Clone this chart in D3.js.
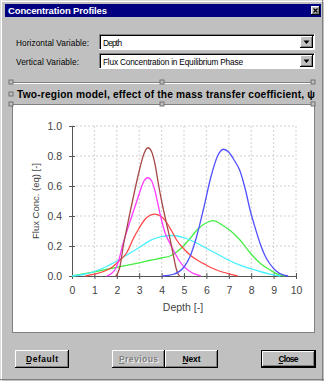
<!DOCTYPE html>
<html>
<head>
<meta charset="utf-8">
<script src="https://cdn.jsdelivr.net/npm/d3@7"></script>
<style>
  body { margin: 0; background: #c0c0c0; overflow: hidden; }
  text { font-family: Arial, "Liberation Sans", sans-serif; }
</style>
</head>
<body>
<script>
// tick values
const xTicks = [0, 1, 2, 3, 4, 5, 6, 7, 8, 9, 10];
const yTicks = [0, 0.2, 0.4, 0.6, 0.8, 1.0];

// concentration profiles, [depth, flux conc]
const brown = [[1.95,0],[2.05,0.02],[2.15,0.07],[2.3,0.21],[2.45,0.32],[2.6,0.43],[2.8,0.57],[3.0,0.7],[3.2,0.81],[3.39,0.855],[3.55,0.83],[3.7,0.75],[3.85,0.62],[4.0,0.5],[4.1,0.43],[4.25,0.33],[4.4,0.23],[4.55,0.12],[4.65,0.05],[4.75,0.01],[4.82,0]];
const magenta = [[1.55,0],[1.75,0.015],[1.95,0.05],[2.1,0.11],[2.25,0.2],[2.45,0.3],[2.65,0.39],[2.85,0.48],[3.05,0.57],[3.2,0.63],[3.39,0.655],[3.55,0.635],[3.7,0.57],[3.85,0.47],[4.0,0.37],[4.15,0.29],[4.38,0.215],[4.6,0.15],[4.82,0.095],[5.05,0.055],[5.27,0.03],[5.5,0.012],[5.75,0]];
const red = [[0.6,0],[1.0,0.012],[1.5,0.035],[1.8,0.06],[2.1,0.1],[2.44,0.155],[2.74,0.25],[3.0,0.32],[3.3,0.385],[3.7,0.413],[4.0,0.395],[4.23,0.355],[4.45,0.3],[4.67,0.24],[5.0,0.18],[5.27,0.14],[5.55,0.11],[5.86,0.084],[6.15,0.06],[6.46,0.04],[6.75,0.025],[7.05,0.013],[7.4,0]];
const cyan = [[0,0],[0.5,0.01],[1.0,0.03],[1.5,0.06],[2.0,0.1],[2.5,0.145],[3.0,0.19],[3.5,0.238],[4.0,0.262],[4.5,0.27],[5.0,0.255],[5.5,0.225],[6.0,0.185],[6.5,0.145],[7.0,0.105],[7.5,0.072],[8.0,0.048],[8.5,0.025],[8.84,0.012],[9.1,0.004],[9.3,0]];
const green = [[0,0],[1,0.028],[2,0.058],[3,0.088],[3.5,0.105],[4.0,0.12],[4.4,0.135],[4.8,0.175],[5.27,0.25],[5.6,0.31],[6.0,0.355],[6.31,0.369],[6.7,0.34],[7.05,0.305],[7.5,0.24],[7.95,0.155],[8.4,0.085],[8.84,0.04],[9.1,0.018],[9.35,0.004],[9.5,0]];
const blue = [[4.05,0],[4.5,0.01],[5.0,0.06],[5.27,0.13],[5.5,0.23],[5.86,0.44],[6.2,0.66],[6.5,0.8],[6.76,0.845],[7.0,0.825],[7.25,0.77],[7.5,0.7],[7.75,0.57],[7.95,0.44],[8.2,0.31],[8.39,0.22],[8.6,0.14],[8.84,0.08],[9.1,0.035],[9.43,0.007],[9.65,0]];

const series = [green, cyan, red, magenta, brown, blue];
const colors = ["#45ee45", "#45f0ff", "#ff4848", "#ff3cff", "#a84848", "#5050ff"];

const W = 324, H = 381;
const svg = d3.select("body").append("svg")
  .attr("width", W).attr("height", H);

// ---- dialog chrome ----
function hline(x1, x2, y, c) {
  svg.append("line").attr("x1", x1).attr("x2", x2).attr("y1", y).attr("y2", y).attr("stroke", c);
}
function vline(x, y1, y2, c) {
  svg.append("line").attr("x1", x).attr("x2", x).attr("y1", y1).attr("y2", y2).attr("stroke", c);
}
// raised 3d box
function raised(x, y, w, h) {
  svg.append("rect").attr("x", x).attr("y", y).attr("width", w).attr("height", h).attr("fill", "#c0c0c0");
  hline(x, x + w - 1, y + 0.5, "#fff");
  vline(x + 0.5, y, y + h - 1, "#fff");
  hline(x, x + w, y + h - 0.5, "#000");
  vline(x + w - 0.5, y, y + h, "#000");
  hline(x + 1, x + w - 1, y + h - 1.5, "#808080");
  vline(x + w - 1.5, y + 1, y + h - 1, "#808080");
}
// sunken white field
function sunken(x, y, w, h) {
  svg.append("rect").attr("x", x).attr("y", y).attr("width", w).attr("height", h).attr("fill", "#fff");
  hline(x, x + w, y + 0.5, "#808080");
  vline(x + 0.5, y, y + h, "#808080");
  hline(x + 1, x + w - 1, y + 1.5, "#000");
  vline(x + 1.5, y + 1, y + h - 1, "#000");
  hline(x, x + w, y + h - 0.5, "#fff");
  vline(x + w - 0.5, y, y + h, "#fff");
}

// window frame
hline(0, W, 0.5, "#dcdcdc");
hline(0, W, 1.5, "#fff");
vline(0.5, 0, H, "#dcdcdc");
vline(1.5, 0, H, "#fff");
vline(W - 1.5, 0, H, "#808080");
hline(0, W, H - 1.5, "#808080");

// title bar
svg.append("rect").attr("x", 5).attr("y", 4).attr("width", 316).attr("height", 13).attr("fill", "#000080");
svg.append("text").attr("x", 8).attr("y", 14).attr("fill", "#fff")
  .attr("font-size", 9.5).attr("font-weight", "bold").attr("textLength", 99)
  .text("Concentration Profiles");
raised(311, 6, 9, 9);
svg.append("path").attr("d", "M313.5,8.5 L317.5,12.5 M317.5,8.5 L313.5,12.5")
  .attr("stroke", "#000").attr("stroke-width", 1.3);

// combo boxes
function combo(y, label, labelW, value, valueW) {
  svg.append("text").attr("x", 16).attr("y", y + 12).attr("font-size", 8.3)
    .attr("textLength", labelW).attr("fill", "#000").text(label);
  sunken(99, y, 216, 16);
  svg.append("text").attr("x", 103).attr("y", y + 12).attr("font-size", 8.3)
    .attr("textLength", valueW).attr("fill", "#000").text(value);
  raised(300, y + 2, 13, 12);
  svg.append("path").attr("d", `M303.5,${y + 6.5} L309.5,${y + 6.5} L306.5,${y + 10} Z`).attr("fill", "#000");
}
combo(34, "Horizontal Variable:", 73, "Depth", 19);
combo(53, "Vertical Variable:", 63, "Flux Concentration in Equilibrium Phase", 140);

// title band with selection handles
hline(11, 314, 82.5, "#808080");
hline(11, 314, 83.5, "#fff");
svg.append("clipPath").attr("id", "bandclip").append("rect")
  .attr("x", 14).attr("y", 84).attr("width", 302).attr("height", 19);
svg.append("text").attr("x", 17).attr("y", 98).attr("font-size", 10.2)
  .attr("font-weight", "bold").attr("fill", "#000").attr("textLength", 298)
  .attr("clip-path", "url(#bandclip)")
  .text("Two-region model, effect of the mass transfer coefficient, \u03c8");
[[11, 82], [162, 82], [313, 82], [11, 94]].forEach(([hx, hy]) => {
  svg.append("rect").attr("x", hx - 2).attr("y", hy - 2).attr("width", 4).attr("height", 4)
    .attr("fill", "#c0c0c0").attr("stroke", "#606060").attr("stroke-width", 0.8);
});

// plot panel
svg.append("rect").attr("x", 12.5).attr("y", 104.5).attr("width", 302).attr("height", 228)
  .attr("fill", "#fff").attr("stroke", "#808080");
[[11, 104], [162, 104], [313, 104]].forEach(([hx, hy]) => {
  svg.append("rect").attr("x", hx - 2).attr("y", hy - 2).attr("width", 4).attr("height", 4)
    .attr("fill", "#c0c0c0").attr("stroke", "#606060").attr("stroke-width", 0.8);
});

// ---- chart ----
const x = d3.scaleLinear().domain([0, 10]).range([72, 296]);
const y = d3.scaleLinear().domain([0, 1]).range([276, 126]);

const plot = svg.append("g");

// dotted grid
plot.selectAll(".vgrid").data(xTicks.slice(1)).enter().append("line")
  .attr("x1", d => x(d)).attr("x2", d => x(d))
  .attr("y1", y(0)).attr("y2", y(1))
  .attr("stroke", "#d0d0d0").attr("stroke-dasharray", "2,2");
plot.selectAll(".hgrid").data(yTicks.slice(1)).enter().append("line")
  .attr("x1", x(0)).attr("x2", x(10))
  .attr("y1", d => y(d)).attr("y2", d => y(d))
  .attr("stroke", "#d0d0d0").attr("stroke-dasharray", "2,2");

// axes, ticks crossing the line
const axisColor = "#555";
const xAxis = plot.append("g")
  .attr("transform", `translate(0,${y(0)})`)
  .call(d3.axisBottom(x).tickValues(xTicks).tickSizeInner(3).tickSizeOuter(0).tickPadding(8).tickFormat(d3.format("d")));
xAxis.selectAll(".tick line").attr("y1", -3);

const yAxis = plot.append("g")
  .attr("transform", `translate(${x(0)},0)`)
  .call(d3.axisLeft(y).tickValues(yTicks).tickSizeInner(3).tickSizeOuter(0).tickPadding(7).tickFormat(d3.format(".1f")));
yAxis.selectAll(".tick line").attr("x1", 3);

[xAxis, yAxis].forEach(g => {
  g.select(".domain").attr("stroke", axisColor);
  g.selectAll(".tick line").attr("stroke", axisColor);
  g.selectAll(".tick text").attr("fill", "#444").attr("font-size", 10.5)
    .attr("font-family", "Arial, 'Liberation Sans', sans-serif");
});

// axis titles
plot.append("text").attr("x", 183).attr("y", 311).attr("text-anchor", "middle")
  .attr("font-size", 10.5).attr("fill", "#444").text("Depth [-]");
plot.append("text").attr("transform", "translate(39,201) rotate(-90)")
  .attr("text-anchor", "middle").attr("font-size", 9.5).attr("fill", "#444")
  .text("Flux Conc. (eq) [-]");

// profile lines
const line = d3.line().x(d => x(d[0])).y(d => y(d[1])).curve(d3.curveMonotoneX);
plot.selectAll(".profile").data(series).enter().append("path")
  .attr("d", line)
  .attr("fill", "none")
  .attr("stroke", (d, i) => colors[i])
  .attr("stroke-width", 1.3);

// ---- buttons ----
function button(bx, w, label, tw, opts = {}) {
  const by = 350, bh = 18;
  if (opts.isDefault) {
    svg.append("rect").attr("x", bx + 0.5).attr("y", by + 0.5).attr("width", w - 1).attr("height", bh - 1)
      .attr("fill", "none").attr("stroke", "#000");
    raised(bx + 1, by + 1, w - 2, bh - 2);
  } else {
    raised(bx, by, w, bh);
  }
  const cx = bx + w / 2;
  if (opts.disabled) {
    svg.append("text").attr("x", cx + 1).attr("y", by + 13).attr("text-anchor", "middle")
      .attr("font-size", 8.5).attr("textLength", tw).attr("fill", "#fff").text(label);
  }
  svg.append("text").attr("x", cx).attr("y", by + 12).attr("text-anchor", "middle")
    .attr("font-size", 8.5).attr("font-weight", "bold").attr("textLength", tw)
    .attr("fill", opts.disabled ? "#808080" : "#000").text(label);
  // underlined access key
  const u = tw / label.length * 1.1;
  hline(cx - tw / 2, cx - tw / 2 + u, by + 13.5, opts.disabled ? "#808080" : "#000");
}
button(15, 54, "Default", 32);
button(112, 53, "Previous", 39, { disabled: true });
button(165, 53, "Next", 18);
button(261, 55, "Close", 20, { isDefault: true });
</script>
</body>
</html>
